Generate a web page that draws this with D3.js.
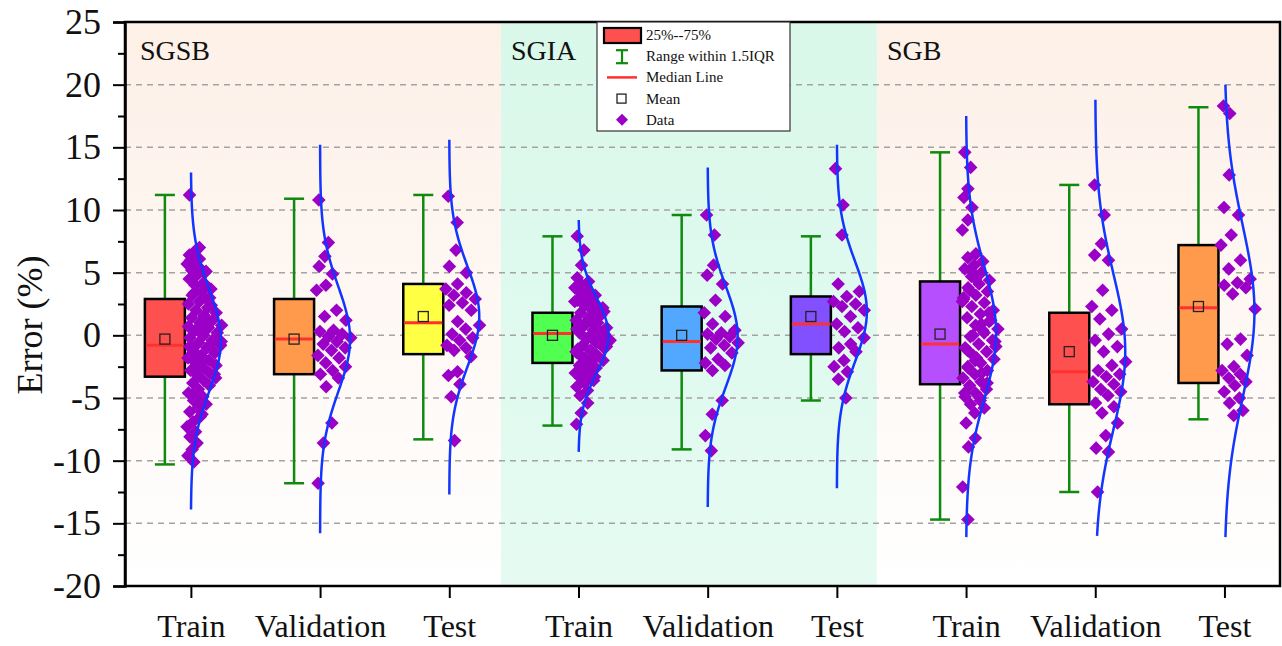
<!DOCTYPE html>
<html>
<head>
<meta charset="utf-8">
<script src="https://cdnjs.cloudflare.com/ajax/libs/d3/7.8.5/d3.min.js"></script>
<style>
body { margin: 0; background: #fff; }
svg { display: block; font-family: "Liberation Serif", "Times New Roman", serif; }
</style>
</head>
<body>
<svg id="chart" width="1282" height="646"></svg>
<script>

// groups and sets (9 series, left to right)
var groups = ['SGSB', 'SGIA', 'SGB'];
var sets = ['Train', 'Validation', 'Test'];
var yTicks = [25, 20, 15, 10, 5, 0, -5, -10, -15, -20];
var gridValues = [20, 15, 10, 5, 0, -5, -10, -15];

// box stats, order: SGSB Train/Val/Test, SGIA Train/Val/Test, SGB Train/Val/Test
var q1 =        [-3.3, -3.1, -1.5, -2.2, -2.8, -1.5, -3.9, -5.5, -3.8];
var q3 =        [ 2.9,  2.9,  4.1,  1.8,  2.3,  3.1,  4.3,  1.8,  7.2];
var medians =   [-0.8, -0.3,  1.0,  0.15, -0.5, 0.9, -0.7, -2.9,  2.2];
var means =     [-0.3, -0.3,  1.5,  0.0,  0.0,  1.5,  0.1, -1.3,  2.3];
var whiskLow =  [-10.3, -11.8, -8.3, -7.2, -9.1, -5.2, -14.7, -12.5, -6.7];
var whiskHigh = [ 11.2,  10.9, 11.2,  7.9,  9.6,  7.9,  14.6,  12.0, 18.2];
var boxColors = ['#ff5050', '#ff9a4c', '#ffff44', '#50ff50', '#52a8ff', '#8250ff', '#b650ff', '#ff5050', '#ff9a4c'];

// normal curve fit per series
var curveMean = [-0.4, -0.3, 1.5, 0.0, -0.1, 1.9, 0.2, -1.3, 1.9];
var curveSd =   [4.1, 4.2, 4.0, 3.0, 4.0, 4.0, 5.3, 6.2, 6.9];
var curveLow =  [-13.9, -15.8, -12.7, -9.3, -13.7, -12.2, -16.1, -16.0, -16.1];
var curveHigh = [13.0, 15.2, 15.6, 9.2, 13.4, 15.2, 17.5, 18.8, 20.0];

// raw errors (%)
var sgsbTrain = [11.2, 7.0, 6.7, 6.4, 6.1, 5.9, 5.7, 5.5, 5.2, 5.0, 4.8, 4.5, 4.2, 4.0, 3.7, 3.5, 3.2, 3.0, 2.7, 2.5,
    2.2, 2.0, 1.8, 1.6, 1.4, 1.2, 1.0, 0.8, 0.6, 0.4, 0.2, 0.0, -0.2, -0.4, -0.6, -0.8, -1.0, -1.2, -1.4, -1.6,
    -1.8, -2.0, -2.2, -2.4, -2.6, -2.8, -3.0, -3.2, -3.4, -3.6, -3.8, -4.0, -4.3, -4.6, -4.9, -5.2, -5.5, -5.8,
    -6.1, -6.5, -6.9, -7.3, -7.7, -8.1, -8.6, -9.1, -9.6, -10.1, 0.3, -0.5, 1.1, -1.3, 2.4, -2.1, 0.7, -0.7,
    3.4, -3.1, 1.5, -1.7, 4.1, -4.4, 5.1, -5.4, 6.0, -6.3, 0.9, -0.9, 2.9, -2.5];
var sgsbVal = [10.8, 7.4, 6.3, 5.5, 4.9, 4.0, 3.6, 2.0, 1.5, 1.2, 0.4, 0.3, 0.1, -0.1, -0.2, -0.5, -0.7, -1.0,
    -1.2, -1.6, -1.8, -2.2, -2.5, -2.8, -3.1, -3.4, -4.1, -7.0, -8.6, -11.8];
var sgsbTest = [11.1, 9.0, 6.8, 5.5, 5.0, 4.1, 3.7, 3.4, 3.2, 2.9, 2.6, 2.4, 2.0, 1.1, 0.8, 0.5, 0.1, -0.2,
    -0.4, -0.8, -1.0, -1.2, -1.7, -2.9, -3.2, -3.9, -4.9, -8.4];
var sgiaTrain = [7.9, 6.8, 5.6, 4.6, 4.3, 4.0, 3.8, 3.6, 3.4, 3.2, 3.0, 2.8, 2.6, 2.4, 2.2, 2.0, 1.8, 1.6, 1.4,
    1.2, 1.0, 0.8, 0.6, 0.4, 0.2, 0.0, -0.2, -0.4, -0.6, -0.8, -1.0, -1.2, -1.4, -1.6, -1.8, -2.0, -2.2, -2.4,
    -2.6, -2.8, -3.0, -3.2, -3.4, -3.6, -3.8, -4.1, -4.4, -4.8, -5.4, -6.2, -7.1, 0.1, -0.1, 0.5, -0.5, 0.9,
    -0.9, 1.5, -1.5, 2.1, -2.1, 2.7, -2.7, 3.5, -3.3, 1.1, -1.1, 0.3, -0.3, 1.9, -1.9, 0.7, -0.7, 1.3, -1.3];
var sgiaVal = [9.6, 8.0, 5.6, 4.8, 4.1, 2.8, 1.8, 1.5, 0.9, 0.4, 0.2, 0.1, -0.1, -0.3, -0.6, -0.8, -1.0, -1.4,
    -1.9, -2.2, -2.4, -2.8, -5.2, -6.3, -8.0, -9.2];
var sgiaTest = [13.3, 10.4, 8.0, 4.1, 3.5, 3.1, 2.7, 2.5, 2.3, 2.0, 1.5, 0.9, 0.6, 0.3, -0.2, -0.7, -1.0, -1.3,
    -2.0, -2.5, -2.9, -3.5, -5.0];
var sgbTrain = [14.6, 13.4, 11.7, 11.0, 10.2, 9.2, 8.4, 6.5, 6.2, 5.9, 5.6, 5.3, 5.0, 4.7, 4.4, 4.1, 3.8, 3.5,
    3.2, 2.9, 2.6, 2.3, 2.0, 1.7, 1.4, 1.1, 0.8, 0.5, 0.2, -0.1, -0.4, -0.7, -1.0, -1.3, -1.6, -1.9, -2.2, -2.5,
    -2.8, -3.1, -3.4, -3.7, -4.0, -4.3, -4.6, -4.9, -5.2, -5.5, -5.8, -6.2, -7.0, -8.2, -8.9, -12.1, -14.7,
    0.0, -0.5, 0.9, -1.2, 1.8, -2.0, 2.7, -3.0, 3.6, -3.8, 4.5, -4.6, -5.0, 5.2, -0.9, 0.4, -2.6, 1.2, -1.8, 3.0];
var sgbVal = [12.0, 9.6, 7.3, 6.4, 6.0, 3.6, 2.3, 2.0, 1.3, 0.5, 0.1, -0.4, -0.9, -1.3, -2.1, -2.4, -2.8, -3.1,
    -3.3, -3.7, -3.9, -4.3, -4.5, -4.8, -5.4, -5.7, -6.2, -7.0, -8.0, -9.0, -9.3, -12.5];
var sgbTest = [18.3, 17.7, 12.8, 10.2, 9.6, 8.0, 7.2, 6.0, 5.3, 4.5, 4.2, 4.0, 3.8, 3.3, 2.1, -0.3, -0.7, -1.6,
    -2.5, -2.8, -3.1, -3.4, -3.7, -4.0, -4.5, -5.0, -5.4, -6.0, -6.4];

var seriesData = [sgsbTrain, sgsbVal, sgsbTest, sgiaTrain, sgiaVal, sgiaTest, sgbTrain, sgbVal, sgbTest];

var legendLabels = ['25%--75%', 'Range within 1.5IQR', 'Median Line', 'Mean', 'Data'];

// note: "top" is taken by window.top, so prefix these
var pLeft = 125, pRight = 1280, pTop = 22, pBottom = 586;

var x = d3.scaleLinear().domain([0.49, 9.43]).range([pLeft, pRight]);
var y = d3.scaleLinear().domain([-20, 25]).range([pBottom, pTop]);
var groupEdges = [0.49, 3.40, 6.31, 9.43];

var svg = d3.select('#chart');
var defs = svg.append('defs');

var makeGrad = function(id, c1, c2){
    var g = defs.append('linearGradient').attr('id', id)
        .attr('x1', 0).attr('y1', 0).attr('x2', 0).attr('y2', 1);
    g.append('stop').attr('offset', '0%').attr('stop-color', c1);
    g.append('stop').attr('offset', '100%').attr('stop-color', c2);
};
makeGrad('peach', '#fdf0e7', '#ffffff');
makeGrad('mint', '#d9f8ea', '#e5fbf2');

// group backgrounds
svg.selectAll('rect.bg')
    .data(groups)
    .enter()
    .append('rect')
    .attr('class', 'bg')
    .attr('x', function(d, i){ return x(groupEdges[i]); })
    .attr('width', function(d, i){ return x(groupEdges[i + 1]) - x(groupEdges[i]); })
    .attr('y', pTop)
    .attr('height', pBottom - pTop)
    .attr('fill', function(d, i){ return i === 1 ? 'url(#mint)' : 'url(#peach)'; });

// grid
svg.selectAll('line.grid')
    .data(gridValues)
    .enter()
    .append('line')
    .attr('class', 'grid')
    .attr('x1', pLeft).attr('x2', pRight)
    .attr('y1', function(d){ return y(d); })
    .attr('y2', function(d){ return y(d); })
    .attr('stroke', '#a3a3a3')
    .attr('stroke-width', 1.5)
    .attr('stroke-dasharray', '6,5');

// group titles
svg.selectAll('text.group')
    .data(groups)
    .enter()
    .append('text')
    .attr('class', 'group')
    .attr('x', function(d, i){ return x(groupEdges[i]) + (i === 0 ? 15 : 10); })
    .attr('y', 60)
    .attr('font-size', 28)
    .attr('fill', '#111')
    .text(function(d){ return d; });

var pdf = function(v, m, s){
    return Math.exp(-(v - m) * (v - m) / (2 * s * s));
};

var diamond = 'M0,-6.8L6.8,0L0,6.8L-6.8,0Z';
var boxOff = -26, boxW = 40, capW = 20;

seriesData.forEach(function(values, i){
    var cx = x(i + 1);
    var bx = cx + boxOff;
    var g = svg.append('g').attr('class', 'series');

    // whisker
    g.append('line')
        .attr('x1', bx).attr('x2', bx)
        .attr('y1', y(whiskLow[i])).attr('y2', y(whiskHigh[i]))
        .attr('stroke', '#0f8a0f').attr('stroke-width', 2.5);
    [whiskLow[i], whiskHigh[i]].forEach(function(w){
        g.append('line')
            .attr('x1', bx - capW / 2).attr('x2', bx + capW / 2)
            .attr('y1', y(w)).attr('y2', y(w))
            .attr('stroke', '#0f8a0f').attr('stroke-width', 2.5);
    });

    // box
    g.append('rect')
        .attr('x', bx - boxW / 2).attr('width', boxW)
        .attr('y', y(q3[i])).attr('height', y(q1[i]) - y(q3[i]))
        .attr('fill', boxColors[i])
        .attr('stroke', '#000').attr('stroke-width', 2.5);

    g.append('line')
        .attr('x1', bx - boxW / 2 + 1).attr('x2', bx + boxW / 2 - 1)
        .attr('y1', y(medians[i])).attr('y2', y(medians[i]))
        .attr('stroke', '#ff3030').attr('stroke-width', 3);

    g.append('rect')
        .attr('x', bx - 5).attr('y', y(means[i]) - 5)
        .attr('width', 10).attr('height', 10)
        .attr('fill', 'none').attr('stroke', '#222').attr('stroke-width', 1.3);

    // data points, spread wider where the fitted density is higher
    g.selectAll('path.pt')
        .data(values)
        .enter()
        .append('path')
        .attr('class', 'pt')
        .attr('d', diamond)
        .attr('fill', '#9a00c6')
        .attr('transform', function(d, j){
            var u = (j * 0.618034 + 0.31) % 1;
            var dens = pdf(d, curveMean[i], curveSd[i]);
            var px = cx - 4 + u * (8 + 28 * dens);
            return 'translate(' + px + ',' + y(d) + ')';
        });

    // fitted normal curve
    var samples = d3.range(curveLow[i], curveHigh[i] + 0.001, (curveHigh[i] - curveLow[i]) / 120);
    var line = d3.line()
        .x(function(v){ return cx + 30 * pdf(v, curveMean[i], curveSd[i]); })
        .y(function(v){ return y(v); })
        .curve(d3.curveBasis);
    g.append('path')
        .attr('d', line(samples))
        .attr('fill', 'none')
        .attr('stroke', '#1236ff')
        .attr('stroke-width', 2.5);
});

// frame
svg.append('rect')
    .attr('x', pLeft).attr('y', pTop)
    .attr('width', pRight - pLeft).attr('height', pBottom - pTop)
    .attr('fill', 'none').attr('stroke', '#000').attr('stroke-width', 2.5);

// y axis (plain hyphen minus like the original)
var yAxis = d3.axisLeft(y).tickValues(yTicks).tickSize(12).tickPadding(12)
    .tickFormat(function(d){ return String(d); });
var ya = svg.append('g').attr('transform', 'translate(' + pLeft + ',0)').call(yAxis);
ya.select('.domain').attr('stroke-width', 2.5);
ya.selectAll('.tick line').attr('stroke-width', 2);
ya.selectAll('text').attr('font-size', 36).attr('font-family', '"Liberation Serif", serif').attr('fill', '#111');

var minorAxis = d3.axisLeft(y).tickValues(d3.range(-17.5, 25, 5)).tickSize(7).tickFormat('');
var ym = svg.append('g').attr('transform', 'translate(' + pLeft + ',0)').call(minorAxis);
ym.select('.domain').remove();
ym.selectAll('.tick line').attr('stroke-width', 2);

// x axis
var xLabels = [];
groups.forEach(function(){ sets.forEach(function(s){ xLabels.push(s); }); });
var xAxis = d3.axisBottom(x).tickValues(d3.range(1, 10)).tickSize(12).tickPadding(16)
    .tickFormat(function(d){ return xLabels[d - 1]; });
var xa = svg.append('g').attr('transform', 'translate(0,' + pBottom + ')').call(xAxis);
xa.select('.domain').remove();
xa.selectAll('.tick line').attr('stroke-width', 2);
xa.selectAll('text').attr('font-size', 32).attr('font-family', '"Liberation Serif", serif').attr('fill', '#111');

svg.append('text')
    .attr('transform', 'translate(30,325) rotate(-90)')
    .attr('text-anchor', 'middle')
    .attr('dominant-baseline', 'central')
    .attr('font-size', 36)
    .attr('fill', '#111')
    .text('Error (%)');

// legend
var lg = svg.append('g').attr('transform', 'translate(597,22)');
lg.append('rect').attr('width', 193).attr('height', 109)
    .attr('fill', '#fff').attr('stroke', '#333').attr('stroke-width', 1.2);

var rows = lg.selectAll('g.row')
    .data(legendLabels)
    .enter()
    .append('g')
    .attr('class', 'row')
    .attr('transform', function(d, i){ return 'translate(0,' + (13 + i * 21.2) + ')'; });

rows.append('text')
    .attr('x', 49).attr('y', 5)
    .attr('font-size', 15)
    .attr('fill', '#111')
    .text(function(d){ return d; });

var r0 = d3.select(rows.nodes()[0]);
r0.append('rect').attr('x', 7).attr('y', -7).attr('width', 37).attr('height', 15)
    .attr('fill', boxColors[0]).attr('stroke', '#000').attr('stroke-width', 2.2);
var r1 = d3.select(rows.nodes()[1]);
r1.append('line').attr('x1', 25).attr('x2', 25).attr('y1', -6).attr('y2', 7).attr('stroke', '#0f8a0f').attr('stroke-width', 2.2);
r1.append('line').attr('x1', 19).attr('x2', 31).attr('y1', -6).attr('y2', -6).attr('stroke', '#0f8a0f').attr('stroke-width', 2.2);
r1.append('line').attr('x1', 19).attr('x2', 31).attr('y1', 7).attr('y2', 7).attr('stroke', '#0f8a0f').attr('stroke-width', 2.2);
var r2 = d3.select(rows.nodes()[2]);
r2.append('line').attr('x1', 10).attr('x2', 40).attr('y1', 0).attr('y2', 0).attr('stroke', '#ff3030').attr('stroke-width', 2.5);
var r3 = d3.select(rows.nodes()[3]);
r3.append('rect').attr('x', 20).attr('y', -4.5).attr('width', 9).attr('height', 9)
    .attr('fill', 'none').attr('stroke', '#222').attr('stroke-width', 1.3);
var r4 = d3.select(rows.nodes()[4]);
r4.append('path').attr('d', 'M0,-6L6,0L0,6L-6,0Z').attr('transform', 'translate(25,0)').attr('fill', '#9a00c6');

</script>
</body>
</html>
